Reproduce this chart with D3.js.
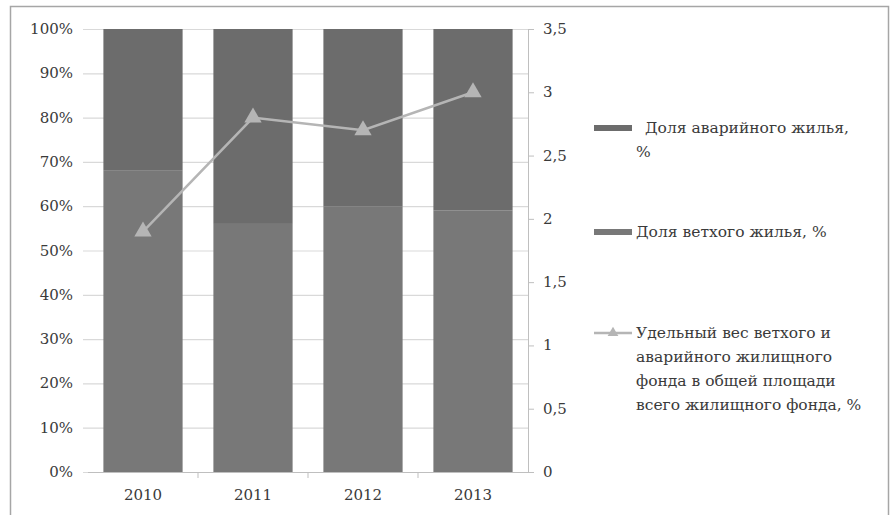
<!DOCTYPE html>
<html>
<head>
<meta charset="utf-8">
<script src="https://cdn.jsdelivr.net/npm/d3@7"></script>
<style>
  body { margin: 0; background: #fff; }
  text { font-family: "DejaVu Serif", "Liberation Serif", serif; fill: #3a3a3a; }
</style>
</head>
<body>
<script>
// data
var years = ["2010", "2011", "2012", "2013"];
var vetkhoe = [68, 56, 60, 59];          // Доля ветхого жилья, % (bottom part)
var avariynoe = [32, 44, 40, 41];        // Доля аварийного жилья, % (top part)
var udelnyVes = [1.9, 2.8, 2.7, 3.0];    // right axis
var leftTicks = [0, 10, 20, 30, 40, 50, 60, 70, 80, 90, 100];
var rightTicks = [0, 0.5, 1, 1.5, 2, 2.5, 3, 3.5];

var W = 891, H = 515;
var svg = d3.select("body").append("svg")
    .attr("width", W).attr("height", H);

// chart frame (top and left edge visible)
svg.append("path")
    .attr("d", "M10.5,520 L10.5,6.5 L888.5,6.5 L888.5,520")
    .attr("fill", "none").attr("stroke", "#a6a6a6").attr("stroke-width", 1.5);

var x = d3.scaleBand().domain(years).range([88, 528]).paddingInner(0.28).paddingOuter(0.14);
var y = d3.scaleLinear().domain([0, 100]).range([472, 29]);
var y2 = d3.scaleLinear().domain([0, 3.5]).range([472, 29]);

// gridlines
svg.append("g").selectAll("line").data(leftTicks).enter().append("line")
    .attr("x1", 83).attr("x2", 528)
    .attr("y1", function (d) { return y(d) + 0.5; })
    .attr("y2", function (d) { return y(d) + 0.5; })
    .attr("stroke", "#d9d9d9").attr("stroke-width", 1.2);

// left labels
svg.append("g").selectAll("text").data(leftTicks).enter().append("text")
    .attr("x", 73).attr("y", function (d) { return y(d) + 5; })
    .attr("text-anchor", "end").attr("font-size", 15)
    .text(function (d) { return d + "%"; });

// stacked bars
var stackData = years.map(function (yr, i) {
    return { year: yr, v: vetkhoe[i], a: avariynoe[i] };
});
var g = svg.append("g");
g.selectAll("rect.v").data(stackData).enter().append("rect")
    .attr("class", "v")
    .attr("x", function (d) { return x(d.year); })
    .attr("width", x.bandwidth())
    .attr("y", function (d) { return y(d.v); })
    .attr("height", function (d) { return y(0) - y(d.v); })
    .attr("fill", "#787878");
g.selectAll("rect.a").data(stackData).enter().append("rect")
    .attr("class", "a")
    .attr("x", function (d) { return x(d.year); })
    .attr("width", x.bandwidth())
    .attr("y", function (d) { return y(d.v + d.a); })
    .attr("height", function (d) { return y(d.v) - y(d.v + d.a); })
    .attr("fill", "#6c6c6c");

// x axis line + ticks between categories
svg.append("line").attr("x1", 88).attr("x2", 528).attr("y1", 472.5).attr("y2", 472.5)
    .attr("stroke", "#bfbfbf");
svg.append("g").selectAll("line").data(years.slice(1)).enter().append("line")
    .attr("x1", function (d) { return x(d) - x.step() * x.paddingInner() / 2; })
    .attr("x2", function (d) { return x(d) - x.step() * x.paddingInner() / 2; })
    .attr("y1", 472).attr("y2", 478)
    .attr("stroke", "#bfbfbf");
svg.append("g").selectAll("text").data(years).enter().append("text")
    .attr("x", function (d) { return x(d) + x.bandwidth() / 2; })
    .attr("y", 500).attr("text-anchor", "middle").attr("font-size", 15)
    .text(function (d) { return d; });

// right axis
svg.append("line").attr("x1", 528.5).attr("x2", 528.5).attr("y1", 29).attr("y2", 472)
    .attr("stroke", "#bfbfbf");
svg.append("g").selectAll("line").data(rightTicks).enter().append("line")
    .attr("x1", 528).attr("x2", 534)
    .attr("y1", function (d) { return y2(d) + 0.5; })
    .attr("y2", function (d) { return y2(d) + 0.5; })
    .attr("stroke", "#bfbfbf");
svg.append("g").selectAll("text").data(rightTicks).enter().append("text")
    .attr("x", 543).attr("y", function (d) { return y2(d) + 5; })
    .attr("font-size", 15)
    .text(function (d) { return String(d).replace(".", ","); });

// line series
var line = d3.line()
    .x(function (d, i) { return x(years[i]) + x.bandwidth() / 2; })
    .y(function (d) { return y2(d); });
svg.append("path").datum(udelnyVes)
    .attr("d", line).attr("fill", "none")
    .attr("stroke", "#b5b5b5").attr("stroke-width", 2.5);
var tri = d3.symbol().type(d3.symbolTriangle).size(130);
svg.append("g").selectAll("path").data(udelnyVes).enter().append("path")
    .attr("d", tri)
    .attr("transform", function (d, i) {
        return "translate(" + (x(years[i]) + x.bandwidth() / 2) + "," + y2(d) + ")";
    })
    .attr("fill", "#b5b5b5");

// legend
var lg = svg.append("g");
lg.append("rect").attr("x", 594).attr("y", 125).attr("width", 38).attr("height", 6).attr("fill", "#6c6c6c");
lg.append("text").attr("x", 645).attr("y", 133).attr("font-size", 15.5).text("Доля аварийного жилья,");
lg.append("text").attr("x", 636).attr("y", 157).attr("font-size", 15.5).text("%");

lg.append("rect").attr("x", 594).attr("y", 229).attr("width", 38).attr("height", 6).attr("fill", "#787878");
lg.append("text").attr("x", 636).attr("y", 237).attr("font-size", 15.5).text("Доля ветхого жилья, %");

lg.append("line").attr("x1", 594).attr("x2", 632).attr("y1", 333).attr("y2", 333)
    .attr("stroke", "#b5b5b5").attr("stroke-width", 2.5);
lg.append("path").attr("d", d3.symbol().type(d3.symbolTriangle).size(50))
    .attr("transform", "translate(613,333)").attr("fill", "#b5b5b5");
var legLines = ["Удельный вес ветхого и", "аварийного жилищного",
    "фонда в общей площади", "всего жилищного фонда, %"];
lg.selectAll("text.l3").data(legLines).enter().append("text")
    .attr("class", "l3")
    .attr("x", 636).attr("y", function (d, i) { return 338 + i * 24; })
    .attr("font-size", 15.5)
    .text(function (d) { return d; });
</script>
</body>
</html>
